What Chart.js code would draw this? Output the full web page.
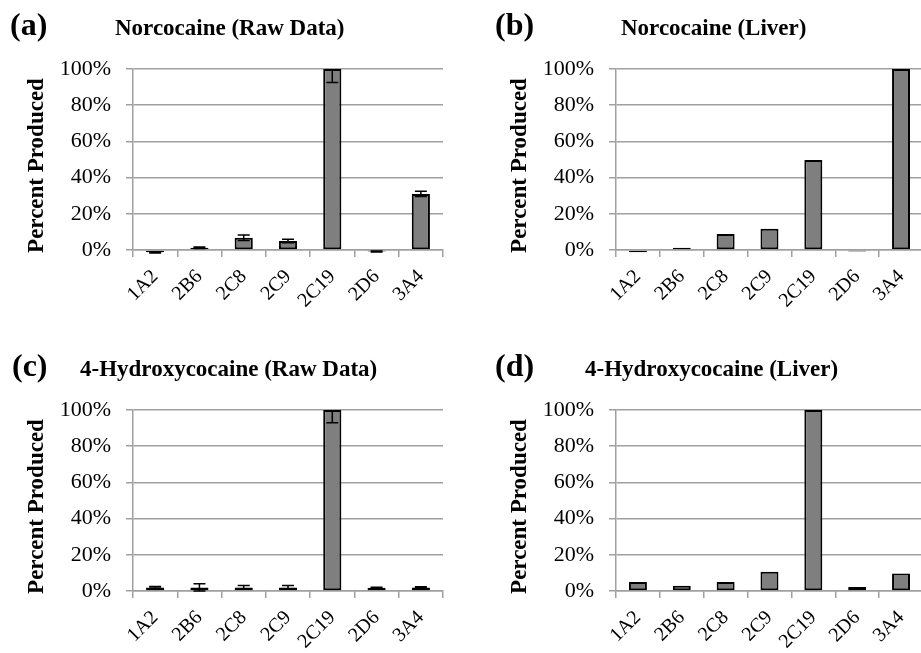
<!DOCTYPE html>
<html>
<head>
<meta charset="utf-8">
<script src="https://cdn.jsdelivr.net/npm/chart.js@4/dist/chart.umd.min.js"></script>
<style>
  html, body { margin: 0; padding: 0; background: #fff; overflow: hidden; width: 921px; height: 653px; }
  .panel { position: absolute; }
</style>
</head>
<body>
<div class="panel" style="left:0px;top:0px;width:460px;height:340px"><canvas id="chartA"></canvas></div>
<div class="panel" style="left:460px;top:0px;width:466px;height:340px"><canvas id="chartB"></canvas></div>
<div class="panel" style="left:0px;top:341px;width:460px;height:340px"><canvas id="chartC"></canvas></div>
<div class="panel" style="left:460px;top:341px;width:466px;height:340px"><canvas id="chartD"></canvas></div>
<script>
const enzimas = ["1A2", "2B6", "2C8", "2C9", "2C19", "2D6", "3A4"];
const yTicks = [0, 20, 40, 60, 80, 100];
const tituloY = "Percent Produced";

// norcocaina
const norRaw = [-1.3, 1.2, 6.8, 5.0, 100, -0.8, 31];
const norRawErr = [0.4, 0.4, 1.5, 1.0, 7.5, 0.3, 1.5];
const norLiver = [-1.3, 1.2, 8.8, 11.8, 49.7, -0.8, 100];

// 4-hidroxicocaina
const hidRaw = [2.0, 2.0, 2.0, 2.0, 100, 1.8, 2.0];
const hidRawErr = [0.5, 2.0, 1.0, 1.0, 7.0, 0.3, 0.4];
const hidLiver = [5.0, 2.9, 5.0, 10.7, 100, 2.2, 9.7];

const serif = "'Liberation Serif', 'Times New Roman', serif";

// --- Encabezado: letra del panel, titulo y rotulo del eje Y ---
const encabezado = {
    id: "encabezado",
    afterDraw(chart, args, opts) {
        const ctx = chart.ctx;
        const area = chart.chartArea;
        ctx.save();
        ctx.fillStyle = "#000";
        ctx.textBaseline = "alphabetic";
        ctx.textAlign = "left";
        ctx.font = "bold 32px " + serif;
        ctx.fillText(opts.letra, opts.letraX, 35);
        ctx.font = "bold 23px " + serif;
        ctx.fillText(opts.titulo, opts.tituloX, 35);

        // rotulo vertical, un poco por debajo del centro del area
        ctx.translate(area.left - 96, (area.top + area.bottom) / 2 + 6);
        ctx.rotate(-Math.PI / 2);
        ctx.textAlign = "center";
        ctx.textBaseline = "middle";
        ctx.font = "bold 23px " + serif;
        ctx.fillText(tituloY, 0, 0);
        ctx.restore();
    }
};

// --- Barras de error ---
const barrasError = {
    id: "barrasError",
    afterDatasetsDraw(chart, args, opts) {
        const errores = opts.errores;
        if (!errores) return;
        const ctx = chart.ctx;
        const area = chart.chartArea;
        const y = chart.scales.y;
        const meta = chart.getDatasetMeta(0);
        const datos = chart.data.datasets[0].data;
        ctx.save();
        ctx.beginPath();
        ctx.rect(0, area.top, chart.width, chart.height - area.top);
        ctx.clip();
        ctx.strokeStyle = "#000";
        ctx.lineWidth = 1.5;
        meta.data.forEach((bar, i) => {
            const e = errores[i];
            const yAlto = y.getPixelForValue(datos[i] + e);
            const yBajo = y.getPixelForValue(datos[i] - e);
            ctx.beginPath();
            ctx.moveTo(bar.x, yAlto);
            ctx.lineTo(bar.x, yBajo);
            ctx.moveTo(bar.x - 6, yAlto);
            ctx.lineTo(bar.x + 6, yAlto);
            ctx.moveTo(bar.x - 6, yBajo);
            ctx.lineTo(bar.x + 6, yBajo);
            ctx.stroke();
        });
        ctx.restore();
    }
};

function crearGrafico(id, valores, errores, cfg) {
    const ctx = document.getElementById(id).getContext("2d");
    return new Chart(ctx, {
        type: "bar",
        data: {
            labels: enzimas,
            datasets: [{
                data: valores,
                backgroundColor: "#7f7f7f",
                borderColor: "#000",
                borderWidth: 2,
                borderSkipped: false,
                barPercentage: 0.41,
                categoryPercentage: 1,
                clip: false
            }]
        },
        options: {
            responsive: true,
            maintainAspectRatio: false,
            animation: false,
            layout: { padding: { top: 69, left: cfg.padIzq, right: cfg.padDer, bottom: 0 } },
            plugins: {
                legend: { display: false },
                tooltip: { enabled: false },
                encabezado: { letra: cfg.letra, letraX: cfg.letraX, titulo: cfg.titulo, tituloX: cfg.tituloX },
                barrasError: { errores }
            },
            scales: {
                x: {
                    afterFit: s => { s.height = 90; },
                    grid: { drawOnChartArea: false, drawTicks: true, tickLength: 7, color: "#a0a0a0", lineWidth: 1.5 },
                    border: { color: "#a0a0a0", width: 1.5 },
                    ticks: {
                        minRotation: 45, maxRotation: 45, padding: 8,
                        color: "#000", font: { family: serif, size: 20 }
                    }
                },
                y: {
                    min: 0, max: 100,
                    afterFit: s => { s.width = cfg.anchoY; },
                    afterBuildTicks: s => { s.ticks = yTicks.map(v => ({ value: v })); },
                    grid: { color: "#a0a0a0", lineWidth: 1.5, tickLength: 7 },
                    border: { color: "#a0a0a0", width: 1.5 },
                    ticks: {
                        padding: 15, color: "#000",
                        font: { family: serif, size: 22 },
                        callback: v => v + "%"
                    }
                }
            }
        },
        plugins: [encabezado, barrasError]
    });
}

crearGrafico("chartA", norRaw, norRawErr,
    { letra: "(a)", letraX: 10, titulo: "Norcocaine (Raw Data)", tituloX: 115, padIzq: 21, anchoY: 112, padDer: 17 });
crearGrafico("chartB", norLiver, null,
    { letra: "(b)", letraX: 35, titulo: "Norcocaine (Liver)", tituloX: 161, padIzq: 45, anchoY: 111, padDer: 0 });
crearGrafico("chartC", hidRaw, hidRawErr,
    { letra: "(c)", letraX: 12, titulo: "4-Hydroxycocaine (Raw Data)", tituloX: 80, padIzq: 21, anchoY: 112, padDer: 17 });
crearGrafico("chartD", hidLiver, null,
    { letra: "(d)", letraX: 35, titulo: "4-Hydroxycocaine (Liver)", tituloX: 125, padIzq: 45, anchoY: 111, padDer: 0 });
</script>
</body>
</html>
